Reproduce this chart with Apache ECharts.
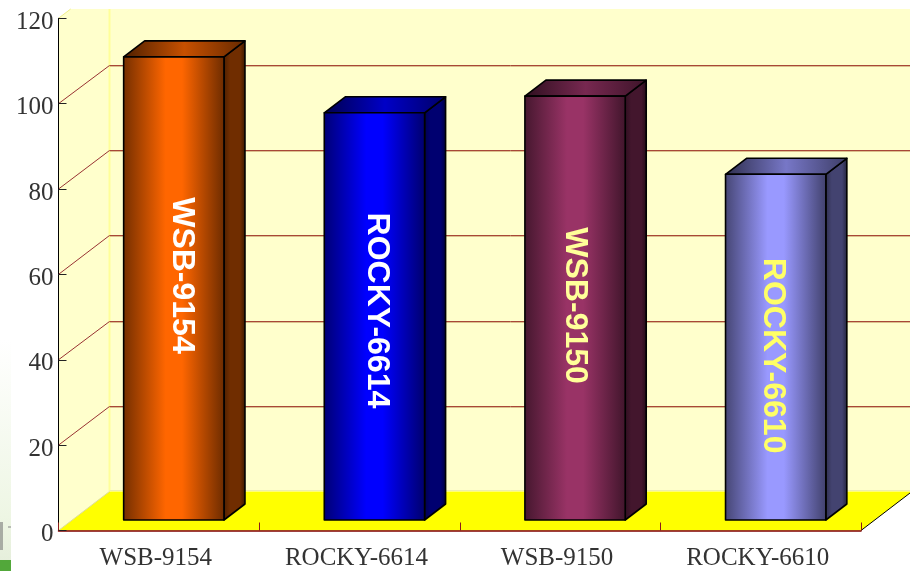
<!DOCTYPE html>
<html>
<head>
<meta charset="utf-8">
<title>Chart</title>
<style>
html, body { margin: 0; padding: 0; background: #fff; }
#main { width: 910px; height: 571px; }
</style>
<script src="https://cdn.jsdelivr.net/npm/echarts@6/dist/echarts.min.js"></script>
</head>
<body>
<div id="main"></div>
<script>
var categories = ['WSB-9154', 'ROCKY-6614', 'WSB-9150', 'ROCKY-6610'];
var values = [108.5, 95.4, 99.3, 81];
var yTicks = [20, 40, 60, 80, 100];

var barColors = [[255, 102, 0], [0, 0, 255], [153, 51, 102], [153, 153, 255]];
var labelColors = ['#ffffff', '#ffffff', '#ffff99', '#ffff66'];
// the labels do not sit in the middle of the bars in the original
var labelNudgeX = [8, 2, 0, -3];
var labelNudgeY = [-13, -6, -2.5, 8.5];

var wallDepthX = 51, wallDepthY = 39, wallTop = 9;
var barDepthX = 21, barDepthY = 16;
var barShiftX = 15, barShiftY = 10.5;

function shade(rgb, k) {
    return 'rgb(' + Math.round(rgb[0] * k) + ',' + Math.round(rgb[1] * k) + ',' + Math.round(rgb[2] * k) + ')';
}

function hGradient(stops) {
    return new echarts.graphic.LinearGradient(0, 0, 1, 0, stops);
}

function renderWalls(params, api) {
    var grid = params.coordSys;
    var x0 = grid.x, x1 = grid.x + grid.width, y0 = grid.y + grid.height;
    var topY = api.coord([0, 120])[1];
    var backX = x0 + wallDepthX, backY = y0 - wallDepthY;
    var cutX = x0 + (topY - wallTop) * wallDepthX / wallDepthY;
    var kids = [
        {type: 'rect', shape: {x: backX, y: wallTop, width: x1 + wallDepthX - backX, height: backY - wallTop},
            style: {fill: '#ffffcc'}},
        {type: 'polygon', shape: {points: [[x0, topY], [cutX, wallTop], [backX, wallTop], [backX, backY], [x0, y0]]},
            style: {fill: '#ffffcc'}},
        {type: 'polygon', shape: {points: [[x0, y0], [x1, y0], [x1 + wallDepthX, backY], [backX, backY]]},
            style: {fill: '#ffff00'}},
        {type: 'line', shape: {x1: backX, y1: wallTop, x2: backX, y2: backY},
            style: {stroke: '#ffff99', lineWidth: 2}},
        {type: 'line', shape: {x1: x0, y1: topY, x2: cutX, y2: wallTop},
            style: {stroke: '#eeee88', lineWidth: 1}},
        {type: 'line', shape: {x1: x0, y1: y0, x2: backX, y2: backY},
            style: {stroke: '#dddd99', lineWidth: 1}},
        {type: 'line', shape: {x1: backX, y1: backY - 1, x2: x1 + wallDepthX, y2: backY - 1},
            style: {stroke: '#eeeeaa', lineWidth: 1}},
        {type: 'line', shape: {x1: x1, y1: y0, x2: x1 + wallDepthX, y2: backY},
            style: {stroke: '#000000', lineWidth: 1}}
    ];
    yTicks.forEach(function (t) {
        var y = api.coord([0, t])[1];
        var yb = Math.round(y - wallDepthY) + 0.5;
        kids.push({type: 'line', shape: {x1: x0, y1: y, x2: backX, y2: yb},
            style: {stroke: '#993333', lineWidth: 1}});
        kids.push({type: 'line', shape: {x1: backX, y1: yb, x2: x1 + wallDepthX, y2: yb},
            style: {stroke: '#a84838', lineWidth: 1}});
        kids.push({type: 'line', shape: {x1: backX, y1: yb + 1, x2: x1 + wallDepthX, y2: yb + 1},
            style: {stroke: '#dcc08c', lineWidth: 1}});
    });
    return {type: 'group', children: kids};
}

function renderBar(params, api) {
    var i = api.value(0);
    var base = api.coord([i, 0]);
    var top = api.coord([i, api.value(1)]);
    var w = api.size([1, 0])[0] * 0.5;
    var c = barColors[i];
    var xl = base[0] + barShiftX - w / 2, xr = xl + w;
    var yb = base[1] - barShiftY, yt = top[1] - barShiftY;
    var border = {stroke: '#000000', lineWidth: 1.6, lineJoin: 'round'};

    function face(fill) {
        return Object.assign({fill: fill}, border);
    }

    return {
        type: 'group',
        children: [
            {type: 'polygon', shape: {points: [[xr, yt], [xr + barDepthX, yt - barDepthY], [xr + barDepthX, yb - barDepthY], [xr, yb]]},
                style: face(hGradient([
                    {offset: 0, color: shade(c, 0.3)},
                    {offset: 0.3, color: shade(c, 0.44)},
                    {offset: 0.75, color: shade(c, 0.44)},
                    {offset: 1, color: shade(c, 0.22)}
                ]))},
            {type: 'polygon', shape: {points: [[xl, yt], [xl + barDepthX, yt - barDepthY], [xr + barDepthX, yt - barDepthY], [xr, yt]]},
                style: face(hGradient([
                    {offset: 0, color: shade(c, 0.3)},
                    {offset: 0.5, color: shade(c, 0.78)},
                    {offset: 1, color: shade(c, 0.4)}
                ]))},
            {type: 'rect', shape: {x: xl, y: yt, width: w, height: yb - yt},
                style: face(hGradient([
                    {offset: 0, color: shade(c, 0.45)},
                    {offset: 0.42, color: shade(c, 1)},
                    {offset: 0.58, color: shade(c, 1)},
                    {offset: 1, color: shade(c, 0.42)}
                ]))},
            {type: 'text', x: (xl + xr) / 2 + labelNudgeX[i], y: (yt + yb) / 2 + labelNudgeY[i],
                rotation: -Math.PI / 2,
                style: {text: categories[i], fill: labelColors[i], font: 'bold 32px "Liberation Sans", Arial, sans-serif',
                    align: 'center', verticalAlign: 'middle'}}
        ]
    };
}

var chart = echarts.init(document.getElementById('main'));
chart.setOption({
    animation: false,
    backgroundColor: '#ffffff',
    textStyle: {fontFamily: '"Liberation Serif", "Times New Roman", serif'},
    // leftovers of the page behind the chart, along the left edge
    graphic: [
        {type: 'rect', z: -1, shape: {x: 0, y: 340, width: 11, height: 220},
            style: {fill: new echarts.graphic.LinearGradient(0, 0, 0, 1, [
                {offset: 0, color: '#ffffff'},
                {offset: 0.8, color: '#eef6e4'},
                {offset: 1, color: '#e6efdc'}
            ])}},
        {type: 'rect', z: -1, shape: {x: 0, y: 522, width: 3, height: 28}, style: {fill: '#a8aca4'}},
        {type: 'rect', z: -1, shape: {x: 8, y: 526, width: 3, height: 2}, style: {fill: '#b8bcb4'}},
        {type: 'rect', z: -1, shape: {x: 0, y: 560, width: 11, height: 11}, style: {fill: '#52a83a'}}
    ],
    grid: {left: 58.5, top: 18.3, right: 49, bottom: 40.5},
    xAxis: {
        type: 'category',
        data: categories,
        z: 3,
        axisLine: {onZero: false, lineStyle: {color: '#800000', width: 1.5}},
        axisTick: {show: true, inside: true, length: 8, lineStyle: {color: '#8b1a1a', width: 1}},
        axisLabel: {color: '#333333', fontSize: 25, margin: 15, padding: [0, 6, 0, 0], interval: 0,
            fontFamily: '"Liberation Serif", "Times New Roman", serif'},
        splitLine: {show: false}
    },
    yAxis: {
        type: 'value',
        min: 0,
        max: 120,
        interval: 20,
        z: 3,
        axisLine: {show: true, lineStyle: {color: '#000000', width: 1}},
        axisTick: {show: true, inside: true, length: 8, lineStyle: {color: '#222222', width: 1}},
        axisLabel: {color: '#333333', fontSize: 25, margin: 5, verticalAlign: 'top', lineHeight: 8,
            fontFamily: '"Liberation Serif", "Times New Roman", serif'},
        splitLine: {show: false}
    },
    series: [
        {type: 'custom', z: 1, silent: true, renderItem: renderWalls, data: [[0, 0]], clip: false},
        {type: 'custom', z: 4, silent: true, renderItem: renderBar, clip: false,
            encode: {x: 0, y: 1},
            data: values.map(function (v, i) { return [i, v]; })}
    ]
});
</script>
</body>
</html>
